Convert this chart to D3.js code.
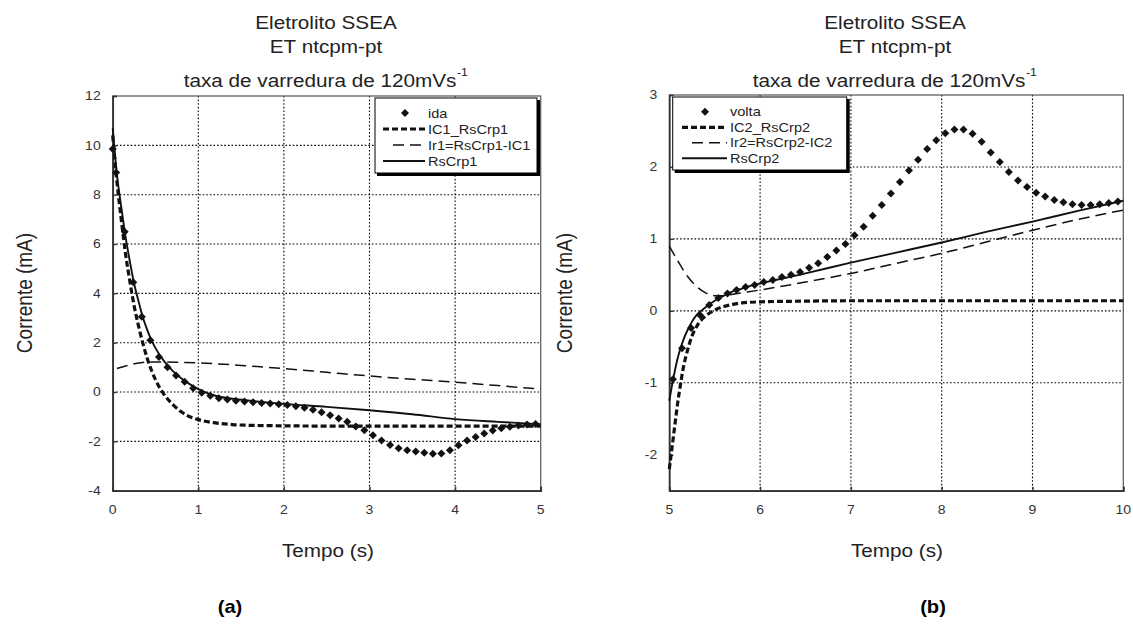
<!DOCTYPE html>
<html>
<head>
<meta charset="utf-8">
<script src="https://cdn.jsdelivr.net/npm/d3@7"></script>
<style>
  body { margin: 0; background: #fff; }
  svg { display: block; font-family: "Liberation Sans", Arial, sans-serif; }
</style>
</head>
<body>
<svg id="chart" width="1133" height="627"></svg>
<script>
// ---------- Panel (a): forward sweep, 0–5 s ----------
const idaT = [0, 0.04, 0.14, 0.24, 0.34, 0.44, 0.54, 0.64, 0.74, 0.84, 0.94, 1.04, 1.14, 1.24, 1.34, 1.44, 1.54, 1.64, 1.74, 1.84, 1.94, 2.04, 2.14, 2.24, 2.34, 2.44, 2.54, 2.64, 2.74, 2.84, 2.94, 3.04, 3.14, 3.24, 3.34, 3.44, 3.54, 3.64, 3.74, 3.84, 3.94, 4.04, 4.14, 4.24, 4.34, 4.44, 4.54, 4.64, 4.74, 4.84, 4.94];
const idaI = [9.85, 8.9, 6.5, 4.45, 3.05, 2.1, 1.42, 1.0, 0.67, 0.42, 0.15, -0.03, -0.15, -0.25, -0.3, -0.35, -0.38, -0.41, -0.44, -0.47, -0.5, -0.53, -0.58, -0.64, -0.72, -0.82, -0.94, -1.07, -1.2, -1.4, -1.55, -1.75, -1.96, -2.15, -2.28, -2.36, -2.41, -2.46, -2.5, -2.49, -2.36, -2.16, -1.97, -1.82, -1.68, -1.56, -1.47, -1.41, -1.36, -1.32, -1.3];

const rs1T = [0, 0.05, 0.1, 0.15, 0.2, 0.25, 0.3, 0.35, 0.4, 0.45, 0.5, 0.6, 0.7, 0.8, 0.9, 1.0, 1.2, 1.4, 1.6, 1.8, 2.0, 2.5, 3.0, 3.5, 4.0, 4.5, 5.0];
const rs1I = [10.7, 8.8, 7.5, 6.3, 5.3, 4.4, 3.7, 3.05, 2.55, 2.12, 1.78, 1.25, 0.86, 0.56, 0.32, 0.12, -0.15, -0.27, -0.35, -0.42, -0.48, -0.6, -0.74, -0.9, -1.1, -1.21, -1.3];

const ic1T = [0, 0.05, 0.1, 0.15, 0.2, 0.25, 0.3, 0.35, 0.4, 0.5, 0.6, 0.7, 0.8, 0.9, 1.0, 1.2, 1.4, 1.6, 2.0, 2.5, 3.0, 3.5, 4.0, 4.5, 5.0];
const ic1I = [10.4, 8.5, 7.0, 5.6, 4.5, 3.5, 2.7, 2.0, 1.4, 0.5, -0.1, -0.5, -0.8, -1.0, -1.12, -1.25, -1.32, -1.35, -1.37, -1.38, -1.38, -1.38, -1.38, -1.38, -1.38];

const ir1T = [0.05, 0.2, 0.35, 0.5, 0.75, 1.0, 1.5, 2.0, 2.5, 3.0, 3.5, 4.0, 4.5, 5.0];
const ir1I = [0.95, 1.1, 1.2, 1.22, 1.21, 1.18, 1.08, 0.95, 0.8, 0.65, 0.52, 0.4, 0.26, 0.12];

const xTicksA = [0, 1, 2, 3, 4, 5];
const yTicksA = [-4, -2, 0, 2, 4, 6, 8, 10, 12];

// ---------- Panel (b): reverse sweep, 5–10 s ----------
const voltaT = [5.04, 5.14, 5.24, 5.34, 5.44, 5.54, 5.64, 5.74, 5.84, 5.94, 6.04, 6.14, 6.24, 6.34, 6.44, 6.54, 6.64, 6.74, 6.84, 6.94, 7.04, 7.14, 7.24, 7.34, 7.44, 7.54, 7.64, 7.74, 7.84, 7.94, 8.04, 8.14, 8.24, 8.34, 8.44, 8.54, 8.64, 8.74, 8.84, 8.94, 9.04, 9.14, 9.24, 9.34, 9.44, 9.54, 9.64, 9.74, 9.84, 9.94];
const voltaI = [-0.95, -0.52, -0.24, -0.06, 0.08, 0.18, 0.24, 0.29, 0.33, 0.36, 0.40, 0.43, 0.47, 0.50, 0.54, 0.60, 0.66, 0.75, 0.84, 0.93, 1.05, 1.17, 1.32, 1.47, 1.63, 1.79, 1.95, 2.1, 2.25, 2.37, 2.47, 2.52, 2.52, 2.46, 2.35, 2.2, 2.07, 1.93, 1.81, 1.72, 1.64, 1.59, 1.54, 1.51, 1.48, 1.47, 1.47, 1.48, 1.5, 1.52];

const rs2T = [5.0, 5.05, 5.1, 5.15, 5.2, 5.25, 5.3, 5.4, 5.5, 5.6, 5.7, 5.8, 5.9, 6.0, 6.5, 7.0, 7.5, 8.0, 8.5, 9.0, 9.5, 10.0];
const rs2I = [-1.25, -0.9, -0.62, -0.42, -0.27, -0.15, -0.06, 0.05, 0.14, 0.21, 0.27, 0.31, 0.35, 0.38, 0.52, 0.67, 0.81, 0.95, 1.1, 1.24, 1.39, 1.53];

const ic2T = [5.0, 5.03, 5.06, 5.09, 5.12, 5.15, 5.2, 5.25, 5.3, 5.4, 5.5, 5.6, 5.7, 5.8, 6.0, 6.5, 7.0, 8.0, 9.0, 10.0];
const ic2I = [-2.2, -1.9, -1.6, -1.3, -1.05, -0.82, -0.55, -0.35, -0.22, -0.07, 0.01, 0.06, 0.09, 0.11, 0.125, 0.135, 0.14, 0.14, 0.14, 0.14];

const ir2T = [5.0, 5.1, 5.2, 5.3, 5.4, 5.5, 5.6, 5.7, 5.8, 6.0, 6.5, 7.0, 7.5, 8.0, 8.5, 9.0, 9.5, 10.0];
const ir2I = [0.9, 0.68, 0.48, 0.34, 0.25, 0.21, 0.21, 0.23, 0.25, 0.29, 0.40, 0.52, 0.66, 0.8, 0.96, 1.12, 1.27, 1.4];

const xTicksB = [5, 6, 7, 8, 9, 10];
const yTicksB = [-2, -1, 0, 1, 2, 3];

// ---------- drawing ----------
const svg = d3.select("#chart");
const STRETCH = 1.12;   // glyphs are slightly wide in this figure
const INK = "#111";

function txt(g, x, y, s, o = {}) {
  const t = g.append("text")
    .attr("transform", o.rotate
      ? `translate(${x},${y}) rotate(-90) scale(1,${STRETCH})`
      : `translate(${x},${y}) scale(${STRETCH},1)`)
    .attr("font-size", o.size || 12)
    .attr("text-anchor", o.anchor || "middle")
    .attr("font-weight", o.weight || "normal")
    .attr("fill", o.fill || "#222");
  if (o.dy) t.attr("dy", o.dy);
  t.text(s);
  return t;
}

const diamond = d3.symbol().type(d3.symbolSquare).size(32);

const styles = {
  solid:  { w: 1.9, dash: null },
  heavy:  { w: 3.2, dash: "6,3" },
  light:  { w: 1.5, dash: "11,6" }
};

function panel(cfg) {
  const g = svg.append("g");
  const x = d3.scaleLinear().domain(cfg.xDomain).range([cfg.left, cfg.right]);
  const y = d3.scaleLinear().domain(cfg.yDomain).range([cfg.bottom, cfg.top]);

  // titles
  const cx = cfg.titleX;
  txt(g, cx, 29, "Eletrolito SSEA", { size: 18.5 });
  txt(g, cx, 53, "ET ntcpm-pt", { size: 18.5 });
  const sub = txt(g, cx - 6, 87, "taxa de varredura de 120mVs", { size: 18.5 });
  txt(g, sub.node().getBBox().width * STRETCH / 2 + cx - 6 + 6, 76, "-1", { size: 11, anchor: "middle" });

  // dotted grid
  g.append("g").selectAll("line.gx")
    .data(cfg.xTicks.slice(1, -1)).join("line")
    .attr("x1", d => x(d)).attr("x2", d => x(d))
    .attr("y1", cfg.top).attr("y2", cfg.bottom)
    .attr("stroke", "#000").attr("stroke-width", 1.1).attr("stroke-dasharray", "1.6,2");
  g.append("g").selectAll("line.gy")
    .data(cfg.yTicks.slice(1, -1)).join("line")
    .attr("y1", d => y(d)).attr("y2", d => y(d))
    .attr("x1", cfg.left).attr("x2", cfg.right)
    .attr("stroke", "#000").attr("stroke-width", 1.1).attr("stroke-dasharray", "1.6,2");

  // frame
  g.append("rect")
    .attr("x", cfg.left).attr("y", cfg.top)
    .attr("width", cfg.right - cfg.left).attr("height", cfg.bottom - cfg.top)
    .attr("fill", "none").attr("stroke", "#555").attr("stroke-width", 1.2);

  // axes (ticks point inward, labels set separately)
  const ax = g.append("g").attr("transform", `translate(0,${cfg.bottom})`)
    .call(d3.axisBottom(x).tickValues(cfg.xTicks).tickSize(-4).tickFormat(""));
  const ay = g.append("g").attr("transform", `translate(${cfg.left},0)`)
    .call(d3.axisLeft(y).tickValues(cfg.yTicks).tickSize(-4).tickFormat(""));
  [ax, ay].forEach(a => {
    a.select(".domain").attr("stroke", "#333").attr("stroke-width", 1.7);
    a.selectAll(".tick line").attr("stroke", "#333").attr("stroke-width", 1.4);
  });

  cfg.xTicks.forEach(v => txt(g, x(v), 514, String(v), { size: 12.5, fill: "#333" }));
  cfg.yTicks.forEach(v => txt(g, cfg.left - 12, y(v), String(v), { size: 12.5, anchor: "end", dy: "0.35em", fill: "#333" }));

  // axis titles
  txt(g, cfg.titleX + 2, 557, "Tempo (s)", { size: 18.5 });
  txt(g, cfg.yLabelX, 293, "Corrente (mA)", { size: 19, rotate: true });
  txt(g, cfg.panelTagX, 613, cfg.panelTag, { size: 18, weight: "bold", fill: "#000" });

  // curves
  const line = d3.line().x(d => x(d[0])).y(d => y(d[1])).curve(d3.curveMonotoneX);
  cfg.curves.forEach(c => {
    const st = styles[c.style];
    g.append("path")
      .datum(d3.zip(c.t, c.v))
      .attr("d", line)
      .attr("fill", "none").attr("stroke", INK)
      .attr("stroke-width", st.w)
      .attr("stroke-dasharray", st.dash);
  });

  // measured points
  g.append("g").selectAll("path")
    .data(d3.zip(cfg.points.t, cfg.points.v)).join("path")
    .attr("d", diamond)
    .attr("transform", d => `translate(${x(d[0])},${y(d[1])}) rotate(45)`)
    .attr("fill", INK);

  // legend
  const L = cfg.legend;
  const lg = g.append("g");
  lg.append("path")
    .attr("d", `M${L.x + L.w + 1.5},${L.y + 2} V${L.y + L.h + 1.5} H${L.x + 2}`)
    .attr("fill", "none").attr("stroke", "#000").attr("stroke-width", 3);
  lg.append("rect")
    .attr("x", L.x).attr("y", L.y).attr("width", L.w).attr("height", L.h)
    .attr("fill", "#fff").attr("stroke", "#000").attr("stroke-width", 1);
  L.items.forEach((it, i) => {
    const yy = L.rows[i];
    if (it.style === "marker") {
      lg.append("path").attr("d", diamond)
        .attr("transform", `translate(${L.mark},${yy}) rotate(45)`).attr("fill", INK);
    } else {
      const st = styles[it.style];
      lg.append("line")
        .attr("x1", it.style === "light" ? L.x1 + 10 : L.x1).attr("x2", L.x2)
        .attr("y1", yy).attr("y2", yy)
        .attr("stroke", INK).attr("stroke-width", st.w)
        .attr("stroke-dasharray", st.dash);
    }
    txt(lg, L.tx, yy + 4.6, it.label, { size: 13, anchor: "start" });
  });
}

panel({
  xDomain: [0, 5], yDomain: [-4, 12],
  left: 112.7, right: 540.7, top: 96, bottom: 490.7,
  xTicks: xTicksA, yTicks: yTicksA,
  titleX: 326, yLabelX: 32, panelTag: "(a)", panelTagX: 230,
  points: { t: idaT, v: idaI },
  curves: [
    { t: ir1T, v: ir1I, style: "light" },
    { t: ic1T, v: ic1I, style: "heavy" },
    { t: rs1T, v: rs1I, style: "solid" }
  ],
  legend: {
    x: 375, y: 98, w: 162, h: 75, rows: [113, 129, 145, 161],
    mark: 405, x1: 383, x2: 425, tx: 428,
    items: [
      { label: "ida", style: "marker" },
      { label: "IC1_RsCrp1", style: "heavy" },
      { label: "Ir1=RsCrp1-IC1", style: "light" },
      { label: "RsCrp1", style: "solid" }
    ]
  }
});

panel({
  xDomain: [5, 10], yDomain: [-2.5, 3],
  left: 669.3, right: 1123.3, top: 95, bottom: 490.7,
  xTicks: xTicksB, yTicks: yTicksB,
  titleX: 895, yLabelX: 572, panelTag: "(b)", panelTagX: 933,
  points: { t: voltaT, v: voltaI },
  curves: [
    { t: ir2T, v: ir2I, style: "light" },
    { t: ic2T, v: ic2I, style: "heavy" },
    { t: rs2T, v: rs2I, style: "solid" }
  ],
  legend: {
    x: 672.7, y: 97, w: 174, h: 73, rows: [111.7, 127.3, 142.7, 158.3],
    mark: 705, x1: 682, x2: 727, tx: 730,
    items: [
      { label: "volta", style: "marker" },
      { label: "IC2_RsCrp2", style: "heavy" },
      { label: "Ir2=RsCrp2-IC2", style: "light" },
      { label: "RsCrp2", style: "solid" }
    ]
  }
});
</script>
</body>
</html>
